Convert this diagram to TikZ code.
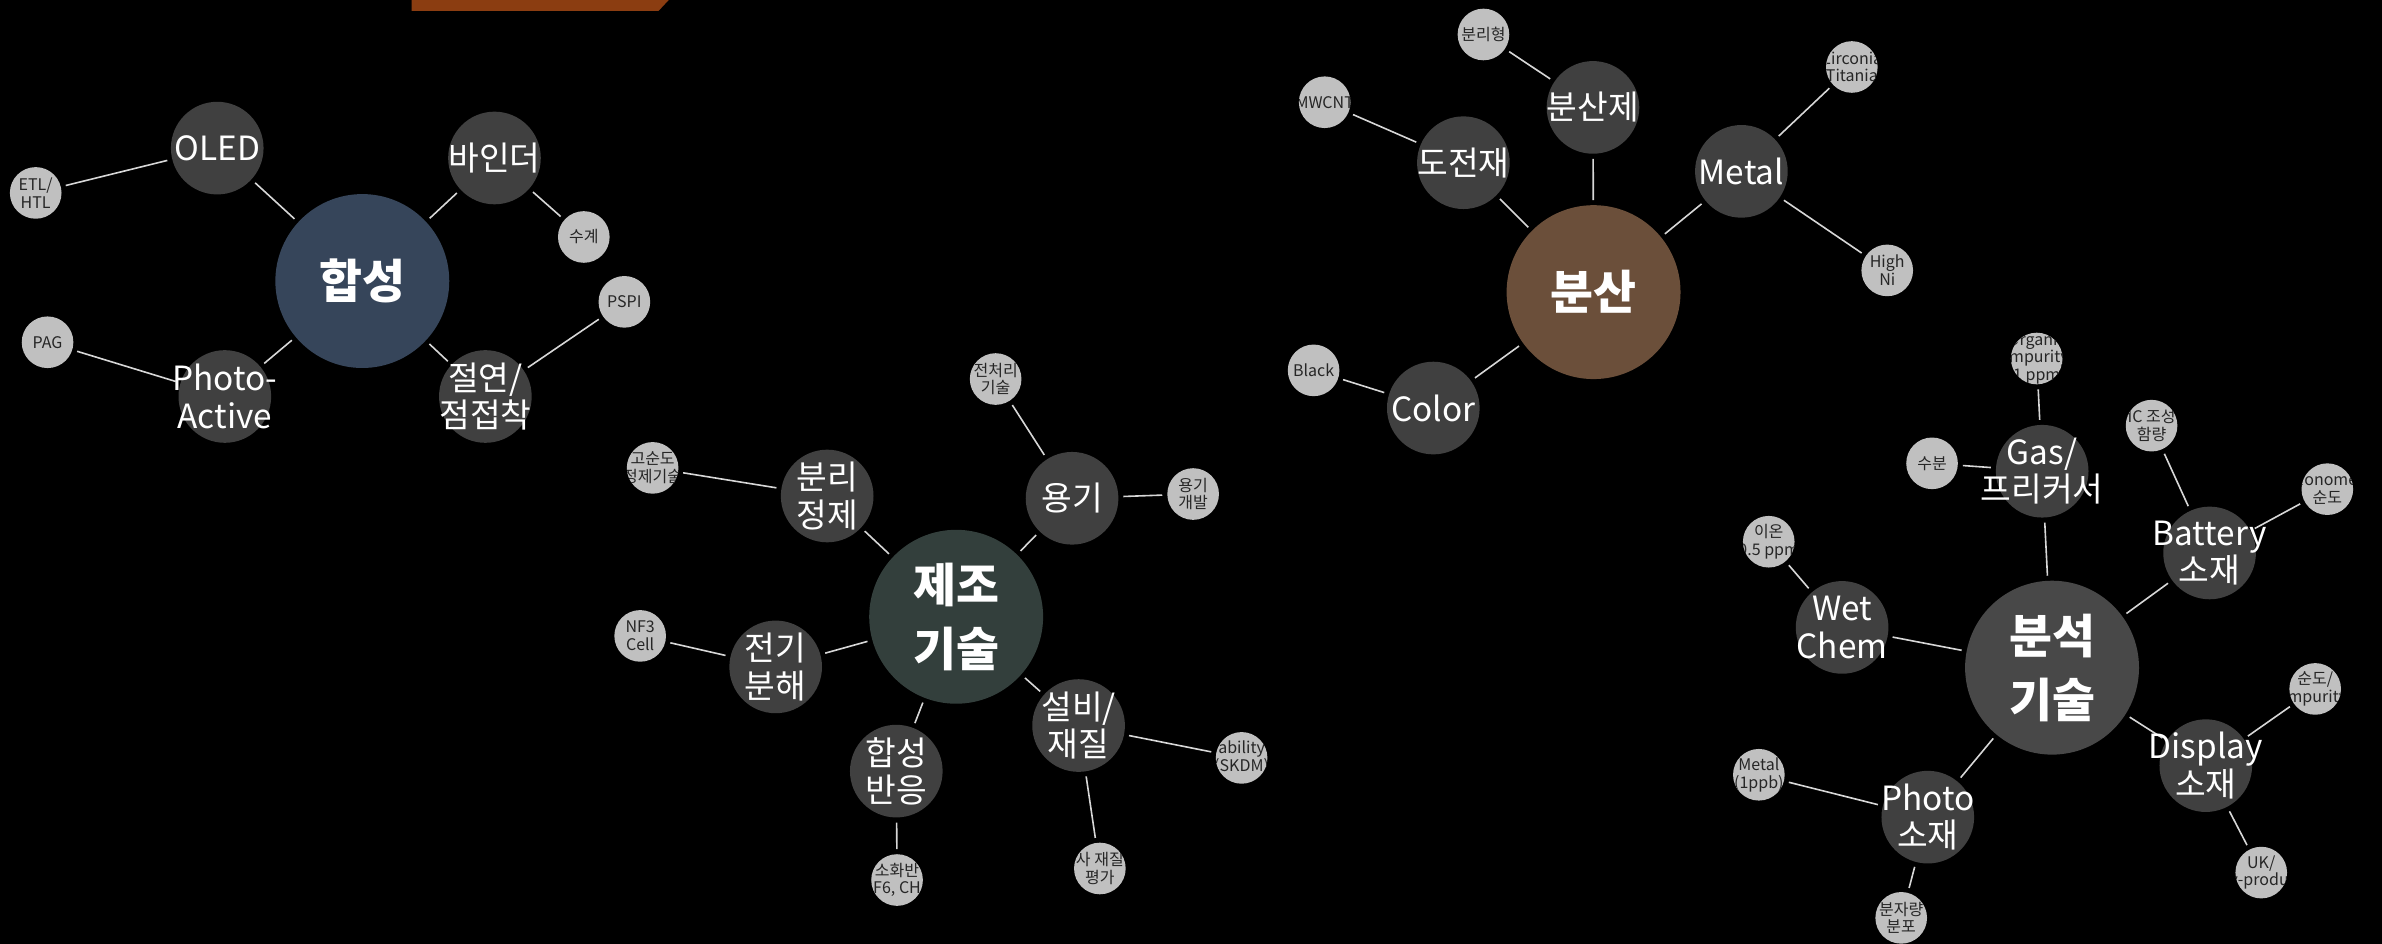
\documentclass[tikz,border=0pt]{standalone}
\usepackage{fontspec}
\setmainfont{Noto Sans CJK KR}
\usetikzlibrary{backgrounds}
\definecolor{hubA}{RGB}{54,69,90}
\definecolor{hubB}{RGB}{51,63,60}
\definecolor{hubC}{RGB}{107,79,58}
\definecolor{hubD}{RGB}{72,72,72}
\definecolor{subgray}{RGB}{64,64,64}
\definecolor{leafgray}{RGB}{192,192,192}
\definecolor{leaftxt}{RGB}{38,38,38}
\definecolor{linegray}{RGB}{215,215,215}
\definecolor{banner}{RGB}{139,61,17}
\begin{document}
\begin{tikzpicture}[x=0.02cm,y=-0.02cm,
  hub/.style={circle,inner sep=0pt,minimum size=2.29cm,draw=none},
  hubtext/.style={text=white,font=\fontsize{17.5}{24}\selectfont\bfseries,align=center,inner sep=0pt},
  sub/.style={circle,inner sep=0pt,minimum size=1.22cm,fill=subgray,draw=none},
  subtext/.style={text=white,font=\fontsize{12.5}{14}\selectfont,align=center,inner sep=0pt},
  leaf/.style={circle,inner sep=0pt,minimum size=0.68cm,fill=leafgray,draw=none,
    path picture={\node[leaftext] at (path picture bounding box.center) {#1};}},
  leaftext/.style={text=leaftxt,font=\fontsize{6}{6.6}\selectfont,align=center,inner sep=0pt},
  link/.style={draw=linegray,line width=0.6pt,shorten <=0.06cm,shorten >=0.06cm}]
\useasboundingbox (0,0) rectangle (1568,621);
\fill[banner] (271,-3) -- (443,-3) -- (433.5,7.2) -- (271,7.2) -- cycle;

% ---------- group 1: 합성
\node[hub,fill=hubA,label={[hubtext]center:합성}] (hab) at (238.5,185) {};
\node[sub,label={[subtext]center:OLED}] (oled) at (143,97.5) {};
\node[sub,label={[subtext]center:바인더}] (binder) at (325.5,104) {};
\node[sub,label={[subtext]center:{Photo-\\Active}}] (photoA) at (148,261) {};
\node[sub,label={[subtext]center:{절연/\\점접착}}] (insul) at (319.5,261) {};
\node[leaf={ETL/\\HTL}] (etl) at (23.5,127) {};
\node[leaf={수계}] (sugye) at (384.3,156) {};
\node[leaf={PSPI}] (pspi) at (411,198.7) {};
\node[leaf={PAG}] (pag) at (31.3,225.3) {};

% ---------- group 2: 제조기술
\node[hub,fill=hubB,label={[hubtext]center:{제조\\기술}}] (jejo) at (629.4,406) {};
\node[sub,label={[subtext]center:{분리\\정제}}] (bunri) at (544.5,326.5) {};
\node[sub,label={[subtext]center:용기}] (yonggi) at (705.7,328) {};
\node[sub,label={[subtext]center:{전기\\분해}}] (jeongi) at (510.6,439) {};
\node[sub,label={[subtext]center:{합성\\반응}}] (habsung) at (590,507.6) {};
\node[sub,label={[subtext]center:{설비/\\재질}}] (seolbi) at (710,477.6) {};
\node[leaf={전처리\\기술}] (jeoncheori) at (655.4,249.5) {};
\node[leaf={용기\\개발}] (yonggigb) at (785.4,325.2) {};
\node[leaf={고순도\\정제기술}] (gosundo) at (429.6,308) {};
\node[leaf={NF3\\Cell}] (nf3) at (421.4,418.6) {};
\node[leaf={소화반\\F6, CH}] (sohwa) at (590.5,579.3) {};
\node[leaf={사 재질\\평가}] (jaejil) at (724,571.7) {};
\node[leaf={ability\\(SKDM)}] (ability) at (817.3,498.9) {};

% ---------- group 3: 분산
\node[hub,fill=hubC,label={[hubtext]center:분산}] (bunsan) at (1049,192.3) {};
\node[sub,label={[subtext]center:분산제}] (bunsanje) at (1048.6,70.7) {};
\node[sub,label={[subtext]center:도전재}] (dojeon) at (963.3,107.1) {};
\node[sub,label={[subtext]center:Metal}] (metal) at (1146.3,112.8) {};
\node[sub,label={[subtext]center:Color}] (color) at (943.5,268.6) {};
\node[leaf={분리형}] (bunrihy) at (976.5,22.7) {};
\node[leaf={MWCNT}] (mwcnt) at (872,67.3) {};
\node[leaf={Zirconia\\Titania}] (zirc) at (1219,44.1) {};
\node[leaf={High\\Ni}] (highni) at (1242.3,178) {};
\node[leaf={Black}] (black) at (864.7,243.8) {};

% ---------- group 4: 분석기술
\node[hub,fill=hubD,label={[hubtext]center:{분석\\기술}}] (bunseok) at (1350.8,439.5) {};
\node[sub,label={[subtext]center:{Gas/\\프리커서}}] (gas) at (1344.3,310.2) {};
\node[sub,label={[subtext]center:{Battery\\소재}}] (battery) at (1454.5,364) {};
\node[sub,label={[subtext]center:{Wet\\Chem}}] (wet) at (1212.6,413) {};
\node[sub,label={[subtext]center:{Display\\소재}}] (display) at (1452,504) {};
\node[sub,label={[subtext]center:{Photo\\소재}}] (photo) at (1269,537.9) {};
\node[leaf={Organic\\impurity\\1 ppm}] (organic) at (1340.7,236) {};
\node[leaf={수분}] (subun) at (1271.8,305) {};
\node[leaf={IC 조성\\함량}] (ic) at (1416.3,280.2) {};
\node[leaf={Monomer\\순도}] (monomer) at (1532,322) {};
\node[leaf={이온\\0.5 ppm}] (ion) at (1164.3,356.6) {};
\node[leaf={순도/\\impurity}] (sundo) at (1524,453.5) {};
\node[leaf={Metal\\(1ppb)}] (metalppb) at (1157.8,510) {};
\node[leaf={UK/\\by-product}] (uk) at (1488.5,574.4) {};
\node[leaf={분자량\\분포}] (bunja) at (1251.5,604.2) {};

\begin{scope}[on background layer]
\fill[black] (-5,-5) rectangle (1573,626);
\draw[link] (hab) -- (oled);
\draw[link] (hab) -- (binder);
\draw[link] (hab) -- (photoA);
\draw[link] (hab) -- (insul);
\draw[link] (oled) -- (etl);
\draw[link] (binder) -- (sugye);
\draw[link] (insul) -- (pspi);
\draw[link] (photoA) -- (pag);

\draw[link] (jejo) -- (bunri);
\draw[link] (jejo) -- (yonggi);
\draw[link] (jejo) -- (jeongi);
\draw[link] (jejo) -- (habsung);
\draw[link] (jejo) -- (seolbi);
\draw[link] (bunri) -- (gosundo);
\draw[link] (yonggi) -- (jeoncheori);
\draw[link] (yonggi) -- (yonggigb);
\draw[link] (jeongi) -- (nf3);
\draw[link] (habsung) -- (sohwa);
\draw[link] (seolbi) -- (jaejil);
\draw[link] (seolbi) -- (ability);

\draw[link] (bunsan) -- (bunsanje);
\draw[link] (bunsan) -- (dojeon);
\draw[link] (bunsan) -- (metal);
\draw[link] (bunsan) -- (color);
\draw[link] (bunsanje) -- (bunrihy);
\draw[link] (dojeon) -- (mwcnt);
\draw[link] (metal) -- (zirc);
\draw[link] (metal) -- (highni);
\draw[link] (color) -- (black);

\draw[link] (bunseok) -- (gas);
\draw[link] (bunseok) -- (battery);
\draw[link] (bunseok) -- (wet);
\draw[link] (bunseok) -- (display);
\draw[link] (bunseok) -- (photo);
\draw[link] (gas) -- (organic);
\draw[link] (gas) -- (subun);
\draw[link] (battery) -- (ic);
\draw[link] (battery) -- (monomer);
\draw[link] (wet) -- (ion);
\draw[link] (display) -- (sundo);
\draw[link] (display) -- (uk);
\draw[link] (photo) -- (metalppb);
\draw[link] (photo) -- (bunja);
\end{scope}
\end{tikzpicture}
\end{document}
